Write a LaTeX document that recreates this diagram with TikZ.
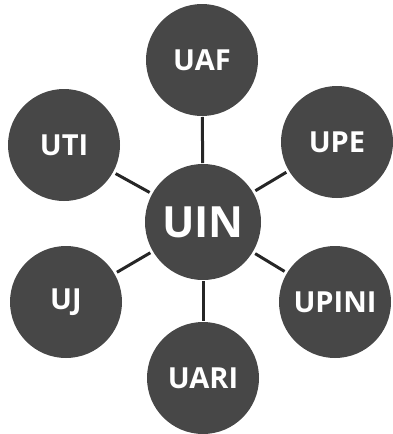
\documentclass[tikz,border=0pt]{standalone}
\usepackage{fontspec}
\setmainfont{Open Sans}
\begin{document}
\begin{tikzpicture}[x=1pt,y=-1pt,
  unit/.style={circle,fill=black!72,inner sep=0pt,outer sep=0pt,minimum size=112pt,
    text=white,font=\bfseries\fontsize{29}{29}\selectfont},
  hub/.style={unit,minimum size=116pt,font=\bfseries\fontsize{43}{43}\selectfont},
  link/.style={draw=black!85,line width=3pt,shorten <=3pt,shorten >=3pt}]
\useasboundingbox (0,0) rectangle (393,434);
\node[hub]  (uin)   at (203,222) {UIN};
\node[unit] (uaf)   at (202,60)  {UAF};
\node[unit] (uti)   at (64,145)  {UTI};
\node[unit] (upe)   at (337,142) {UPE};
\node[unit] (uj)    at (66,302)  {UJ};
\node[unit] (upini) at (335,302) {UPINI};
\node[unit] (uari)  at (203,378) {UARI};
\draw[link,shorten <=1pt,shorten >=1pt] (uin) -- (uaf);
\draw[link,shorten <=1pt,shorten >=1pt] (uin) -- (uari);
\draw[link] (uin) -- (uti);
\draw[link] (uin) -- (upe);
\draw[link] (uin) -- (uj);
\draw[link] (uin) -- (upini);
\end{tikzpicture}
\end{document}
